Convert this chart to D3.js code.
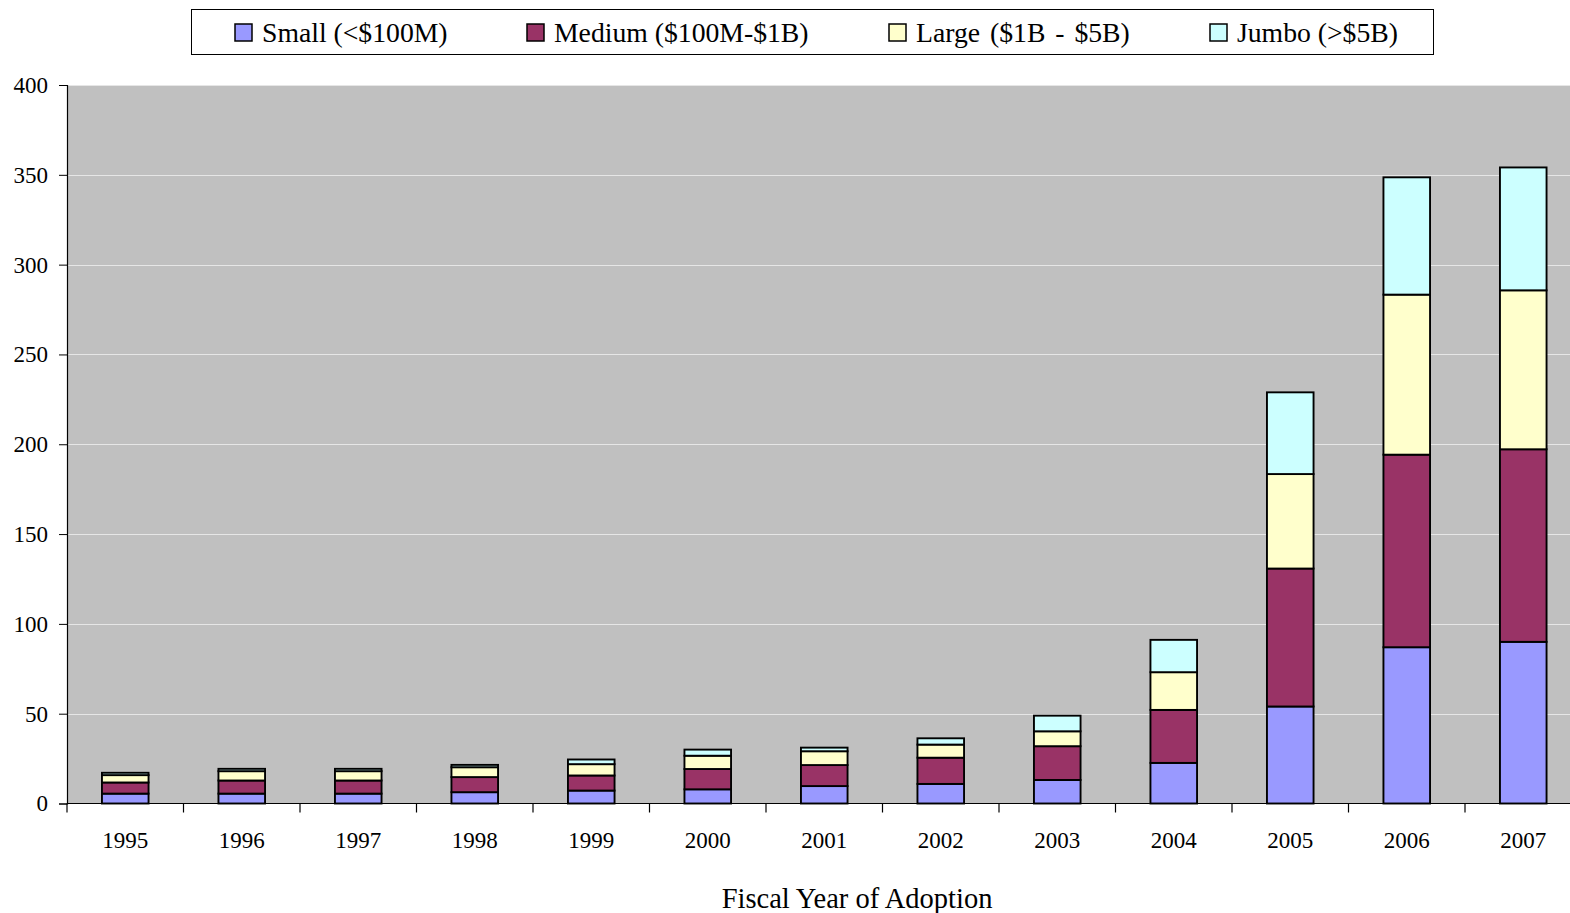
<!DOCTYPE html>
<html><head><meta charset="utf-8">
<script src="https://cdn.jsdelivr.net/npm/d3@7"></script>
<style>html,body{margin:0;padding:0;background:#fff;}svg{display:block;}</style>
</head><body>
<svg id="chart" width="1570" height="913"></svg>
<script>
const years = ["1995","1996","1997","1998","1999","2000","2001","2002","2003","2004","2005","2006","2007"];
const seriesNames = ["Small (<$100M)","Medium ($100M-$1B)","Large ($1B - $5B)","Jumbo (>$5B)"];
const small  = [5.5, 5.5, 5.5, 6.3, 7.2, 7.9, 9.7, 10.9, 13.1, 22.6, 54, 87, 90];
const medium = [6.2, 7.3, 7.3, 8.4, 8.4, 11.3, 11.7, 14.6, 18.8, 29.5, 76.8, 107.2, 107.2];
const large  = [4.1, 5.2, 5.2, 5.5, 6.3, 7.4, 7.7, 7.3, 8.3, 21, 52.6, 89.1, 88.5];
const jumbo  = [1.3, 1.3, 1.3, 1.3, 2.6, 3.4, 2.0, 3.5, 8.7, 18, 45.5, 65.3, 68.4];
const yTicks = [0,50,100,150,200,250,300,350,400];
const colors = ["#9999ff","#993366","#ffffcc","#ccffff"];
const xTitle = "Fiscal Year of Adoption";

const svg = d3.select("#chart");
const font = "'Liberation Serif','Times New Roman',serif";

const rows = years.map((y,i)=>({year:y, s0:small[i], s1:medium[i], s2:large[i], s3:jumbo[i]}));
const keys = ["s0","s1","s2","s3"];
const stacked = d3.stack().keys(keys)(rows);

const x = d3.scaleBand().domain(years).range([67, 1581.5]).paddingInner(0.6).paddingOuter(0.3);
const y = d3.scaleLinear().domain([0,400]).range([803.5, 85]);

// plot background
svg.append("rect").attr("x",67).attr("y",y(400)).attr("width",1581.5-67).attr("height",y(0)-y(400)).attr("fill","#c0c0c0");

// gridlines
svg.append("g").selectAll("line").data(yTicks.filter(t=>t>0)).join("line")
  .attr("x1",67).attr("x2",1581.5).attr("y1",d=>Math.round(y(d))+0.5).attr("y2",d=>Math.round(y(d))+0.5)
  .attr("stroke","#e6e6e6").attr("stroke-width",1.2);

// bars
svg.append("g").selectAll("g").data(stacked).join("g")
  .attr("fill",(d,i)=>colors[i])
  .selectAll("rect").data(d=>d).join("rect")
  .attr("x",d=>x(d.data.year)).attr("width",x.bandwidth())
  .attr("y",d=>y(d[1])).attr("height",d=>y(d[0])-y(d[1]))
  .attr("stroke","#000").attr("stroke-width",1.9);

// y axis
const yAxis = d3.axisLeft(y).tickValues(yTicks).tickSize(8).tickPadding(11).tickFormat(d3.format("d"));
const gy = svg.append("g").attr("transform","translate(67,0)").call(yAxis);
gy.select(".domain").attr("stroke","#000").attr("stroke-width",1.2);
gy.selectAll(".tick line").attr("stroke","#000");
gy.selectAll("text").attr("font-family",font).attr("font-size",23).attr("fill","#000");

// x axis
const xAxis = d3.axisBottom(x).tickSize(0).tickPadding(28);
const gx = svg.append("g").attr("transform",`translate(0,${y(0)})`).call(xAxis);
gx.select(".domain").remove();
gx.selectAll("text").attr("font-family",font).attr("font-size",23).attr("fill","#000");
svg.append("line").attr("x1",67).attr("x2",1581.5).attr("y1",y(0)).attr("y2",y(0)).attr("stroke","#000").attr("stroke-width",1.2);
const bounds = years.map(d=>x(d)+x.bandwidth()/2-x.step()/2).concat([x(years[years.length-1])+x.bandwidth()/2+x.step()/2]);
svg.append("g").selectAll("line").data(bounds).join("line")
  .attr("x1",d=>d).attr("x2",d=>d).attr("y1",y(0)).attr("y2",y(0)+9).attr("stroke","#000").attr("stroke-width",1.2);

// x title
svg.append("text").attr("x",857).attr("y",908).attr("text-anchor","middle")
  .attr("font-family",font).attr("font-size",28.5).attr("fill","#000").text(xTitle);

// legend
svg.append("rect").attr("x",191.5).attr("y",9.5).attr("width",1242).attr("height",45)
  .attr("fill","#fff").attr("stroke","#000").attr("stroke-width",1);
const legX = [235, 527, 889, 1210];
const lg = svg.append("g").selectAll("g").data(seriesNames).join("g")
  .attr("transform",(d,i)=>`translate(${legX[i]},24)`);
lg.append("rect").attr("width",17).attr("height",17).attr("fill",(d,i)=>colors[i]).attr("stroke","#000").attr("stroke-width",1.5);
lg.append("text").attr("x",27).attr("y",18).attr("font-family",font).attr("font-size",27.7).attr("fill","#000")
  .attr("word-spacing",(d,i)=>i===2?3:0).text(d=>d);
</script>
</body></html>
